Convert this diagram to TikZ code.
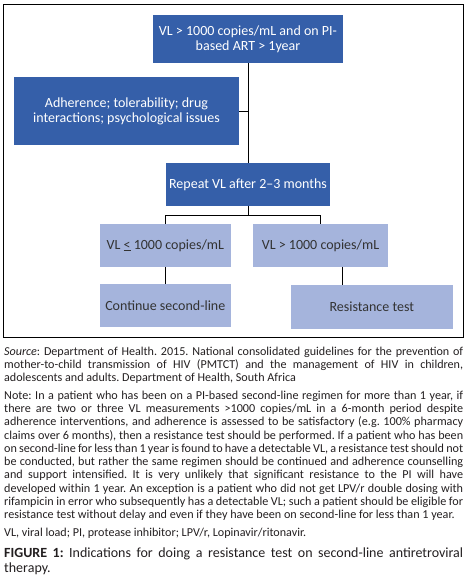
\documentclass[tikz,border=0pt]{standalone}
\usepackage{fontspec}
\setmainfont{Carlito}
\hyphenpenalty=10000
\frenchspacing
\definecolor{darkbox}{HTML}{355FA9}
\definecolor{lightbox}{HTML}{A5B4DC}
\definecolor{boxtext}{HTML}{333333}
\definecolor{captext}{HTML}{231F20}
\begin{document}
\begin{tikzpicture}[x=1pt,y=-1pt,
  dbox/.style={fill=darkbox,text=white,inner sep=0pt,align=center,font=\fontsize{14}{15}\selectfont},
  lbox/.style={fill=lightbox,text=boxtext,inner sep=0pt,align=center,font=\fontsize{14}{15}\selectfont},
  conn/.style={draw=black,line width=0.8pt},
  para/.style={inner sep=0pt,anchor=north west,text=captext,text width=459pt,align=justify,
    execute at begin node={\hyphenpenalty=10000\exhyphenpenalty=50\frenchspacing}}]
\useasboundingbox (0,0) rectangle (469,578);
\draw[line width=0.9pt] (3.3,4.7) rectangle (463.3,337.7);
\node[dbox,minimum width=190pt,minimum height=48pt] (top) at (248,39) {VL > 1000 copies/mL and on PI-\\based ART > 1year};
\node[dbox,minimum width=225pt,minimum height=68pt] (adh) at (126.5,111) {Adherence; tolerability; drug\\interactions; psychological issues};
\node[dbox,minimum width=164pt,minimum height=42.7pt] (rep) at (248,184.3) {Repeat VL after 2--3 months};
\node[lbox,minimum width=130.7pt,minimum height=42.7pt] (vle) at (165.3,245.3) {VL \underline{<} 1000 copies/mL};
\node[lbox,minimum width=134.4pt,minimum height=42.7pt] (vgt) at (320.5,245.3) {VL > 1000 copies/mL};
\node[lbox,minimum width=130.7pt,minimum height=42.7pt] (cont) at (165.3,305.3) {Continue second-line};
\node[lbox,minimum width=161.7pt,minimum height=43.7pt] (res) at (371.8,306.8) {Resistance test};
\draw[conn] (top.south) -- (rep.north);
\draw[conn] (adh.east) -- (adh.east -| top.south);
\draw[conn] (rep.south) -- ++(0,9.3) coordinate (split) -| (vle.north);
\draw[conn] (split) -| (vgt.north);
\draw[conn] (vle.south) -- (cont.north);
\draw[conn] ([xshift=22.2pt]vgt.south) -- ([xshift=22.2pt]vgt.south |- res.north);
\node[para,font=\fontsize{12.1}{13}\selectfont] (src) at (4,347) {\textit{Source}: Department of Health. 2015. National consolidated guidelines for the prevention of\linebreak mother-to-child transmission of HIV (PMTCT) and the management of HIV in children,\linebreak adolescents and adults. Department of Health, South Africa};
\node[para,font=\fontsize{12.15}{13.3}\selectfont] (note) at (4,390.5) {Note: In a patient who has been on a PI-based second-line regimen for more than 1 year, if\linebreak there are two or three VL measurements >1000 copies/mL in a 6-month period despite\linebreak adherence interventions, and adherence is assessed to be satisfactory (e.g. 100\% pharmacy\linebreak claims over 6 months), then a resistance test should be performed. If a patient who has been\linebreak on second-line for less than 1 year is found to have a detectable VL, a resistance test should not\linebreak be conducted, but rather the same regimen should be continued and adherence counselling\linebreak and support intensified. It is very unlikely that significant resistance to the PI will have\linebreak developed within 1 year. An exception is a patient who did not get LPV/r double dosing with\linebreak rifampicin in error who subsequently has a detectable VL; such a patient should be eligible for\linebreak resistance test without delay and even if they have been on second-line for less than 1 year.};
\node[para,font=\fontsize{12.1}{13}\selectfont] (abbr) at (4,528) {VL, viral load; PI, protease inhibitor; LPV/r, Lopinavir/ritonavir.};
\node[para,font=\fontsize{14}{15.3}\selectfont] (cap) at (4,547.5) {\textbf{FIGURE 1:} Indications for doing a resistance test on second-line antiretroviral\linebreak therapy.};
\end{tikzpicture}
\end{document}
